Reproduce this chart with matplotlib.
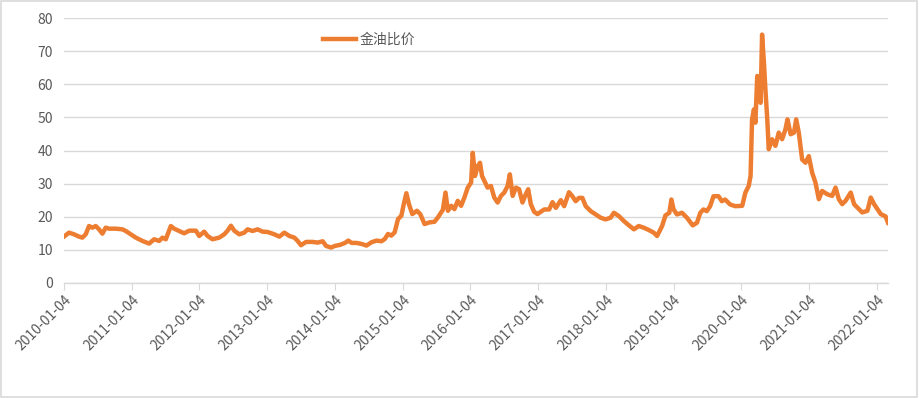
import pandas as pd
import matplotlib
matplotlib.use("Agg")
import matplotlib.pyplot as plt
import matplotlib.dates as mdates
from matplotlib.patches import Rectangle

plt.rcParams['font.family'] = ['Noto Sans CJK SC', 'DejaVu Sans']

# -----------------------------
# Data
# -----------------------------
dates = [
    "2010-01-04", "2010-01-31", "2010-02-27", "2010-03-26", "2010-04-13", "2010-05-01",
    "2010-05-19", "2010-06-06", "2010-06-24", "2010-07-12", "2010-07-30", "2010-08-17",
    "2010-09-04", "2010-10-10", "2010-11-15", "2010-12-03", "2010-12-30", "2011-01-26",
    "2011-03-03", "2011-04-08", "2011-05-05", "2011-06-01", "2011-06-19", "2011-07-07",
    "2011-08-03", "2011-08-21", "2011-09-17", "2011-10-14", "2011-11-10", "2011-12-16",
    "2012-01-03", "2012-01-30", "2012-02-17", "2012-03-15", "2012-04-20", "2012-05-17",
    "2012-06-04", "2012-06-22", "2012-07-10", "2012-08-06", "2012-09-02", "2012-09-20",
    "2012-10-17", "2012-11-13", "2012-12-10", "2013-01-06", "2013-02-11", "2013-03-10",
    "2013-04-06", "2013-05-03", "2013-05-30", "2013-06-17", "2013-07-05", "2013-08-01",
    "2013-09-06", "2013-10-03", "2013-10-30", "2013-11-17", "2013-12-14", "2014-01-04",
    "2014-01-31", "2014-02-27", "2014-03-17", "2014-04-04", "2014-04-30", "2014-05-27",
    "2014-06-23", "2014-07-20", "2014-08-16", "2014-09-12", "2014-09-30", "2014-10-17",
    "2014-11-04", "2014-11-22", "2014-12-10", "2014-12-28", "2015-01-10", "2015-01-24",
    "2015-02-07", "2015-02-25", "2015-03-22", "2015-04-09", "2015-05-02", "2015-05-29",
    "2015-06-25", "2015-07-13", "2015-08-09", "2015-08-23", "2015-09-05", "2015-09-23",
    "2015-10-10", "2015-10-28", "2015-11-15", "2015-12-03", "2015-12-21", "2016-01-08",
    "2016-01-17", "2016-01-29", "2016-02-13", "2016-02-25", "2016-03-07", "2016-03-20",
    "2016-04-06", "2016-04-24", "2016-05-12", "2016-05-30", "2016-06-17", "2016-07-05",
    "2016-07-23", "2016-08-04", "2016-08-19", "2016-09-06", "2016-09-23", "2016-10-11",
    "2016-10-29", "2016-11-11", "2016-11-25", "2016-12-13", "2016-12-31", "2017-02-05",
    "2017-03-04", "2017-03-22", "2017-04-09", "2017-05-06", "2017-05-24", "2017-06-19",
    "2017-07-07", "2017-07-25", "2017-08-12", "2017-08-30", "2017-09-17", "2017-10-14",
    "2017-11-10", "2017-12-07", "2018-01-02", "2018-01-29", "2018-02-16", "2018-03-15",
    "2018-04-11", "2018-05-08", "2018-06-04", "2018-06-30", "2018-07-27", "2018-08-23",
    "2018-09-19", "2018-10-07", "2018-11-03", "2018-11-21", "2018-12-12", "2018-12-23",
    "2019-01-04", "2019-01-22", "2019-02-18", "2019-03-17", "2019-04-17", "2019-05-10",
    "2019-05-28", "2019-06-14", "2019-07-02", "2019-07-20", "2019-08-07", "2019-09-03",
    "2019-09-21", "2019-10-09", "2019-11-05", "2019-12-02", "2020-01-09", "2020-01-26",
    "2020-02-13", "2020-02-23", "2020-03-02", "2020-03-12", "2020-03-20", "2020-03-30",
    "2020-04-07", "2020-04-17", "2020-04-25", "2020-05-05", "2020-05-13", "2020-05-23",
    "2020-05-31", "2020-06-18", "2020-07-06", "2020-07-24", "2020-08-11", "2020-08-29",
    "2020-09-09", "2020-09-26", "2020-10-14", "2020-10-26", "2020-11-09", "2020-11-27",
    "2020-12-15", "2021-01-02", "2021-01-20", "2021-02-07", "2021-02-25", "2021-03-15",
    "2021-04-11", "2021-05-08", "2021-05-26", "2021-06-13", "2021-07-01", "2021-07-19",
    "2021-08-16", "2021-09-03", "2021-09-29", "2021-10-17", "2021-11-14", "2021-12-02",
    "2021-12-20", "2022-01-07", "2022-01-25", "2022-02-20", "2022-03-05",
]
ratio = [
    14.0, 15.2, 14.7, 14.0, 13.7, 14.7,
    17.2, 16.7, 17.2, 16.2, 14.9, 16.7,
    16.4, 16.4, 16.2, 15.7, 14.7, 13.7,
    12.7, 11.9, 13.2, 12.7, 13.7, 13.2,
    17.2, 16.4, 15.7, 15.0, 15.8, 15.8,
    14.2, 15.5, 14.2, 13.2, 13.7, 14.7,
    15.8, 17.3, 15.8, 14.7, 15.2, 16.2,
    15.7, 16.2, 15.5, 15.4, 14.7, 14.0,
    15.2, 14.2, 13.7, 12.7, 11.4, 12.4,
    12.4, 12.2, 12.6, 11.2, 10.7, 11.2,
    11.5, 12.1, 12.8, 12.1, 12.1, 11.8,
    11.3, 12.3, 12.8, 12.6, 13.3, 14.8,
    14.3, 15.3, 19.3, 20.3, 23.8, 27.1,
    23.8, 20.8, 21.8, 20.8, 17.8, 18.3,
    18.5, 19.8, 22.1, 27.3, 21.8, 23.3,
    22.3, 24.8, 23.3, 25.8, 28.8, 30.3,
    39.3, 32.3, 35.3, 36.3, 32.3, 30.8,
    28.8, 29.3, 25.8, 24.3, 26.3, 27.3,
    29.3, 32.8, 26.3, 28.8, 28.3, 24.3,
    26.8, 28.3, 23.8, 21.5, 20.8, 22.2,
    22.2, 24.4, 22.7, 25.0, 23.2, 27.4,
    26.2, 24.7, 25.7, 25.7, 23.2, 21.7,
    20.7, 19.7, 19.2, 19.7, 21.2, 20.2,
    18.7, 17.4, 16.2, 17.2, 16.7, 16.0,
    15.2, 14.2, 17.2, 20.4, 21.2, 25.2,
    22.2, 20.7, 21.2, 19.7, 17.4, 18.2,
    21.2, 22.2, 21.7, 23.2, 26.2, 26.2,
    24.7, 25.2, 23.7, 23.2, 23.3, 27.3,
    29.3, 32.3, 49.4, 52.4, 48.4, 62.5,
    59.4, 54.4, 75.0, 66.5, 58.4, 49.4,
    40.4, 43.4, 41.4, 45.4, 43.4, 46.4,
    49.4, 44.9, 45.4, 49.4, 45.4, 37.3,
    36.3, 38.3, 33.3, 30.3, 25.3, 27.8,
    26.8, 26.3, 28.8, 25.3, 23.8, 24.8,
    27.3, 23.8, 22.3, 21.3, 21.8, 25.8,
    23.8, 22.3, 20.8, 20.1, 18.2,
]
tick_dates = ["%d-01-04" % y for y in range(2010, 2023)]

dates = pd.to_datetime(dates)
tick_dates = pd.to_datetime(tick_dates)

# -----------------------------
# Plot
# -----------------------------
fig = plt.figure(figsize=(9.19, 3.98), dpi=100)
ax = fig.add_axes([64 / 919, 115 / 398, 824 / 919, 265 / 398])

ax.plot(dates, ratio, color="#ED7D31", linewidth=3.2, label="金油比价",
        solid_joinstyle="round")

ax.set_ylim(0, 80)
ax.set_yticks(range(0, 81, 10))
ax.set_xlim(dates[0], dates[-1])
ax.set_xticks(tick_dates)
ax.xaxis.set_major_formatter(mdates.DateFormatter("%Y-%m-%d"))

ax.grid(axis="y", color="#D9D9D9", linewidth=1)
ax.set_axisbelow(True)
for side in ["top", "right", "left"]:
    ax.spines[side].set_visible(False)
ax.spines["bottom"].set_color("#D9D9D9")
ax.spines["bottom"].set_linewidth(1)

ax.tick_params(axis="y", length=0, labelsize=10, labelcolor="#595959", pad=8)
ax.tick_params(axis="x", length=5, color="#D9D9D9", labelsize=10,
               labelcolor="#595959", pad=2)
for lbl in ax.get_xticklabels():
    lbl.set_rotation(45)
    lbl.set_ha("right")
    lbl.set_rotation_mode("anchor")

ax.legend(loc="center", bbox_to_anchor=(0.37, 0.917), frameon=False,
          fontsize=10, handlelength=2.4, handletextpad=0.2,
          labelcolor="#595959")

# chart-area border
fig.patches.append(Rectangle((0.001, 0.002), 0.997, 0.995, transform=fig.transFigure,
                             fill=False, edgecolor="#D9D9D9", linewidth=1.2))

fig.savefig("out.png", dpi=100)
